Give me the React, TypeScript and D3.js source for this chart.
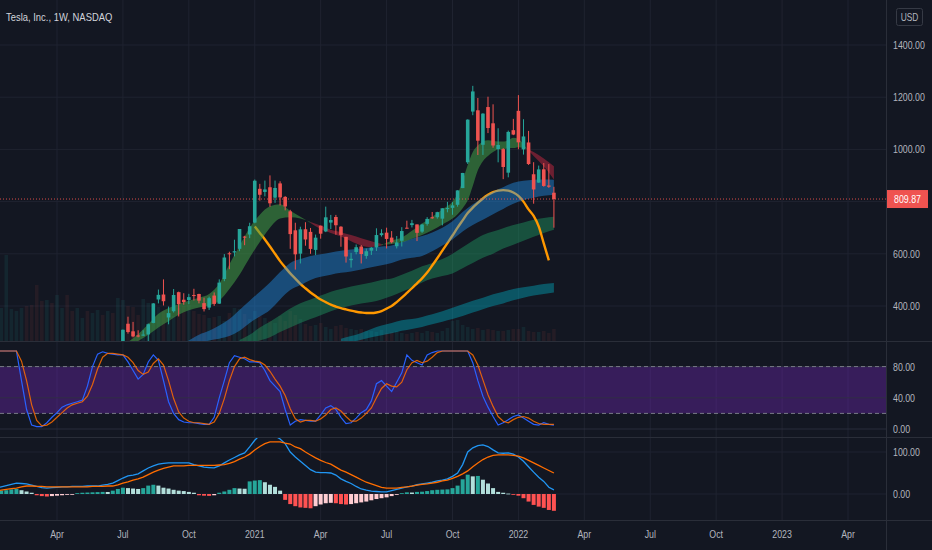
// App.tsx
// Weekly TSLA chart in a TradingView dark theme: candles with EMA ribbons and a
// regression curve, a stochastic pane and a MACD pane. Drawn as JSX with d3 scales.
import React from 'react';
import * as d3 from 'd3';

const W = 932;
const H = 550;
const AXIS_X = 886;
const FONT = "'Liberation Sans', 'DejaVu Sans', sans-serif";
const SQUEEZE = 0.8; // the screenshot's labels are narrow

// one bar per week, week 0 = 2020-01-13
const weeks = d3.timeMonday.range(new Date(2020, 0, 13), new Date(2022, 1, 22));

const opens = [
  98.7, 106, 108.4, 134, 160, 168, 167, 142, 121, 93.8, 82.4, 101, 102, 118, 146, 147, 140, 158, 165, 166,
  171, 188, 183, 199, 192, 255, 332, 303, 287, 289, 291, 335, 425, 444, 356, 380, 453, 424, 423, 442,
  446, 411, 394, 440, 409, 503.5, 602, 605, 619, 666, 674, 719.5, 849, 837, 855, 815, 869.7, 818, 762.6, 690,
  600.5, 694, 684, 615, 707.7, 685.7, 719.6, 741, 703.8, 664.9, 575.5, 607, 627.8, 591.8, 612, 624.5, 671.6, 681, 662, 629,
  650, 700, 710, 712.5, 685, 714.7, 740, 740.2, 734.6, 773, 776, 787.7, 851.8, 950.5, 1145, 1149.8, 1017.6, 1162.3, 1100, 1001.5,
  1001.1, 910.8, 1073.7, 1147.75, 1000, 1026.6, 904.8, 872.7, 923.8, 861.6, 834,
];
const highs = [
  110.6, 118.8, 130.6, 193.8, 163.6, 189, 172, 154.5, 137, 102, 113, 105, 116, 160, 160, 160, 163, 164, 166, 167,
  179, 205, 201, 202, 244, 310, 359, 339, 307, 307, 333, 411, 463, 502, 398, 465, 455, 449, 446.6, 466,
  447, 432, 436, 452, 502, 599, 608, 654, 695, 669, 719, 884.5, 868, 880.5, 900.4, 880.5, 877.8, 821, 768.5, 719,
  703.7, 721, 699, 673.6, 708, 780.8, 749, 749, 706, 665, 603.5, 635.6, 633.8, 620, 625.5, 697.6, 694, 700, 687, 668,
  702, 726.9, 729.9, 712.5, 715, 740.4, 760.2, 761, 774.8, 799, 797.9, 843.2, 910, 1115.2, 1243.5, 1197, 1138.7, 1201.9, 1172.8, 1081,
  1005, 1072, 1117, 1208, 1115.6, 1070.8, 951, 938, 947.8, 943.8, 856.7,
];
const lows = [
  98.1, 103, 104, 132, 150, 164, 130, 131, 109, 72.2, 83, 86, 101, 118, 137, 140, 136, 151, 161, 162,
  169, 184, 183, 189, 190, 253, 294, 280, 280, 285, 263, 334, 410, 402, 329.9, 375, 360, 405, 407, 421,
  410, 379, 385, 400.5, 408, 495, 541, 590, 610, 633, 660, 717, 803.6, 820, 780.1, 795, 785.3, 766.5, 619, 539.5,
  563, 631, 600, 595, 658, 683, 695, 673, 627, 566.2, 546.98, 598, 563, 581, 595.6, 611, 666, 620.5, 640, 620.5,
  628, 697, 701, 648.8, 680, 708, 734, 734.5, 708.9, 759, 749.5, 780.6, 851.8, 944.2, 1131, 978.6, 978.8, 1062.5, 1006.5, 950.5,
  886.1, 893, 1054.6, 1000.5, 980, 940.5, 792, 872, 857, 852.6, 700,
];
const closes = [
  102.1, 113, 130.1, 149.6, 160, 180, 133.6, 140.7, 109.3, 85.5, 102.9, 96, 114.6, 150.8, 145, 140.3, 163.9, 160.1, 163.4, 167,
  177.6, 187, 200.2, 191.9, 241.7, 308.9, 300.2, 283.4, 286.2, 290.5, 330.1, 410, 442.7, 418.3, 372.7, 442.2, 407.3, 415.1, 434, 439.7,
  420.6, 388, 430, 408, 489.6, 585.8, 599, 610, 695, 661.8, 705.7, 880, 826.2, 846.6, 793.5, 852.2, 816.1, 781.3, 675.5, 598,
  693.7, 654.9, 618.7, 661.8, 677, 739.8, 729.4, 709.4, 672.4, 589.7, 580.9, 625.2, 599, 609.9, 623.3, 671.9, 678.9, 657, 644.2, 643.4,
  687.2, 699.1, 717.2, 680.3, 711.9, 733.6, 736.3, 759.5, 774.4, 775.2, 785.5, 843, 909.7, 1114, 1222.1, 1033.4, 1137.1, 1081.9, 1015, 1017,
  932.6, 1067, 1056.8, 1027, 1049.6, 943.9, 846.4, 923.3, 860, 857, 809.87,
];
// weekly volume, millions of shares
const volumes = [
  340, 330, 860, 320, 300, 330, 350, 360, 560, 400, 410, 380, 460, 330, 460, 300, 330, 230, 300, 280,
  310, 260, 300, 280, 430, 410, 350, 340, 260, 420, 380, 330, 340, 300, 280, 250, 330, 350, 360, 300,
  270, 260, 230, 240, 250, 200, 280, 330, 320, 270, 220, 300, 250, 230, 200, 180, 250, 200, 300, 260,
  220, 170, 150, 160, 180, 140, 120, 150, 160, 130, 120, 110, 120, 100, 100, 90, 110, 80, 90, 100,
  80, 70, 80, 90, 80, 100, 90, 80, 100, 130, 200, 210, 160, 140, 120, 130, 110, 120, 110, 100,
  100, 110, 120, 120, 140, 100, 90, 90, 100, 80, 120,
];

// EMA ribbon knots: week index, fast and slow edge
const fastWeeks = [24, 26, 28, 30, 32, 34, 36, 38, 40, 42, 44, 46, 48, 50, 52, 54, 56, 58, 60, 62, 64, 66, 68, 70, 72, 74, 75, 76, 77, 78, 80, 82, 84, 86, 88, 90, 91, 92, 93, 94, 95, 96, 97, 98, 99, 100, 101, 102, 103, 104, 105, 106, 108, 110];
const fastEdge = [235, 262, 292, 330, 370, 392, 408, 420, 432, 446, 485, 560, 630, 700, 750, 782, 790, 765, 742, 718, 695, 680, 666, 648, 632, 626, 628, 632, 642, 650, 662, 688, 716, 742, 770, 800, 830, 880, 940, 990, 1015, 1030, 1035, 1033, 1030, 1030, 1035, 1045, 1040, 1020, 995, 975, 935, 885];
const slowEdge = [215, 240, 266, 290, 318, 342, 366, 384, 394, 402, 420, 465, 520, 585, 645, 700, 735, 740, 735, 722, 708, 692, 683, 672, 660, 648, 642, 638, 636, 638, 644, 658, 672, 690, 712, 735, 752, 775, 805, 860, 920, 955, 975, 990, 1000, 1000, 1005, 1005, 1008, 1005, 1000, 990, 965, 935];

const blueWeeks = [36, 38, 40, 42, 44, 46, 48, 50, 52, 54, 56, 58, 60, 62, 64, 66, 68, 70, 72, 74, 76, 78, 80, 82, 84, 86, 88, 90, 92, 94, 96, 98, 100, 102, 104, 106, 108, 110];
const blueUpper = [250, 268, 290, 305, 325, 350, 385, 420, 455, 490, 530, 565, 580, 592, 598, 605, 612, 616, 620, 624, 628, 632, 645, 658, 668, 682, 700, 725, 760, 790, 815, 838, 855, 872, 880, 884, 885, 884];
const blueLower = [225, 238, 255, 268, 275, 285, 305, 335, 360, 385, 425, 461, 480, 500, 512, 520, 527, 532, 540, 548, 556, 565, 578, 585, 592, 610, 632, 655, 685, 710, 730, 752, 772, 792, 806, 815, 822, 826];

const greenWeeks = [48, 50, 52, 54, 56, 58, 60, 62, 64, 66, 68, 70, 72, 74, 76, 78, 80, 82, 84, 86, 88, 90, 92, 94, 96, 98, 100, 102, 104, 106, 108, 110];
const greenUpper = [270, 290, 318, 340, 365, 390, 411, 425, 440, 455, 465, 475, 482, 490, 500, 505, 520, 535, 552, 565, 580, 600, 625, 650, 672, 685, 698, 710, 720, 730, 737, 742];
const greenLower = [240, 255, 268, 280, 300, 318, 335, 350, 365, 380, 392, 402, 410, 415, 425, 438, 455, 470, 490, 505, 515, 525, 545, 565, 585, 600, 620, 635, 650, 665, 680, 692];

const tealWeeks = [68, 70, 72, 74, 76, 78, 80, 82, 84, 86, 88, 90, 92, 94, 96, 98, 100, 102, 104, 106, 108, 110];
const tealUpper = [275, 285, 297, 312, 325, 335, 345, 350, 358, 368, 380, 393, 407, 420, 432, 445, 455, 465, 472, 478, 484, 488];
const tealLower = [255, 262, 271, 280, 288, 296, 305, 312, 320, 330, 340, 350, 362, 375, 388, 400, 410, 422, 432, 440, 446, 452];

// regression curve
const curveWeeks = [51, 52, 53, 54, 55, 56, 57, 58, 59, 60, 61, 62, 63, 64, 65, 66, 67, 68, 69, 70, 71, 72, 73, 74, 75, 76, 77, 78, 79, 80, 81, 82, 83, 84, 85, 86, 87, 88, 89, 90, 91, 92, 93, 94, 95, 96, 97, 98, 99, 100, 101, 102, 103, 104, 105, 106, 107, 108, 109];
const curveValues = [705, 680, 655, 628, 600, 572, 548, 525, 505, 485, 468, 452, 438, 425, 415, 405, 398, 392, 387, 382, 378, 375, 373, 373, 375, 380, 390, 400, 415, 432, 450, 468, 487, 506, 528, 555, 583, 612, 641, 670, 700, 728, 756, 777, 795, 812, 826, 836, 842, 844, 842, 835, 822, 800, 770, 745, 705, 640, 575];

// stochastic %K and %D
const stochK = [
  100, 100, 100, 100, 100, 62, 25, 5, 3, 3, 8, 15, 21, 28, 31, 33, 35, 37, 55, 80,
  96, 99, 97, 96, 95, 95, 86, 75, 64, 70, 86, 95, 88, 62, 35, 20, 12, 9, 8, 8,
  7, 6, 6, 15, 40, 62, 85, 94, 92, 90, 86, 86, 85, 75, 62, 55, 48, 25, 5, 10,
  12, 11, 10, 10, 18, 27, 30, 25, 15, 7, 8, 14, 21, 25, 36, 58, 62, 55, 48, 60,
  72, 95, 88, 85, 82, 95, 98, 100, 100, 100, 100, 100, 100, 100, 85, 62, 42, 28, 16, 5,
  8, 12, 16, 18, 14, 10, 6, 5, 8, 6, 5,
];
const stochD = [
  100, 100, 100, 100, 100, 87, 62, 31, 11, 4, 5, 9, 15, 21, 27, 31, 33, 35, 42, 57,
  77, 92, 97, 97, 96, 95, 92, 85, 75, 70, 73, 84, 90, 82, 62, 39, 22, 14, 10, 8,
  8, 7, 6, 9, 20, 39, 62, 80, 90, 92, 89, 87, 86, 82, 74, 64, 55, 43, 26, 13,
  9, 11, 11, 10, 13, 18, 25, 27, 23, 16, 10, 10, 14, 20, 27, 40, 52, 58, 55, 54,
  60, 76, 85, 88, 85, 87, 92, 98, 100, 100, 100, 100, 100, 100, 95, 82, 63, 44, 29, 16,
  10, 8, 12, 15, 16, 14, 10, 7, 6, 6, 6,
];
const stochBand = [20, 80];

// MACD line, signal line and histogram
const macdLine = [
  14, 17, 20, 23, 26, 25, 24, 21, 18, 15, 14, 15, 16, 17, 17, 18, 18, 18, 19, 19,
  19, 21, 23, 26, 32, 38, 43, 45, 48, 55, 62, 67, 71, 73, 74, 74, 74, 74, 74, 70,
  67, 64, 63, 62, 67, 74, 81, 87, 93, 98, 112, 128, 140, 147, 145, 138, 131, 120, 100, 88,
  78, 68, 58, 52, 51, 51, 50, 45, 36, 30, 25, 18, 12, 9, 7, 6, 5, 5, 8, 11,
  14, 17, 19, 22, 24, 26, 28, 31, 33, 36, 42, 50, 70, 100, 110, 115, 117, 113, 105, 98,
  97, 98, 95, 88, 78, 65, 52, 40, 30, 16, 10,
];
const signalLine = [
  7, 9, 11, 13, 14, 17, 19, 19, 18, 18, 17, 17, 17, 17, 17, 17, 17, 17, 17, 18,
  18, 18, 19, 19, 22, 26, 29, 33, 36, 40, 46, 52, 57, 61, 64, 67, 67, 67, 68, 68,
  68, 68, 68, 68, 69, 70, 73, 77, 83, 88, 95, 105, 113, 120, 124, 124, 124, 121, 119, 112,
  108, 100, 93, 86, 80, 75, 71, 64, 57, 52, 46, 40, 34, 28, 24, 20, 16, 14, 14, 14,
  16, 17, 19, 21, 23, 24, 26, 28, 31, 33, 37, 42, 48, 55, 65, 74, 82, 88, 92, 93,
  93, 93, 92, 90, 86, 80, 74, 68, 62, 56, 50,
];
const macdHist = [
  7, 8, 9, 11, 12, 9, 6, 3, -3, -5, -6, -5, -4, -3, -2, -1, 2, 3, 3.5, 4,
  4.5, 5, 4.8, 8, 12, 15, 14, 13, 12, 14, 20, 22, 20, 15, 13, 10, 8, 7, 5, 3,
  -3, -4, -4.5, -3, 3, 6, 10, 14, 13, 12.5, 30, 32, 33, 28, 22, 17, 8, -14, -24, -29,
  -32, -33, -34, -29, -25, -22, -21, -22, -24, -25, -24, -22, -20, -18, -15, -12, -10, -8, -5, -2,
  2, 4, 3.5, 5, 5.5, 7, 9, 10, 10.5, 11, 14, 20, 35, 46, 42, 43, 34, 25, 14, 5,
  3, 1, -2, -4, -10, -18, -26, -30, -33, -38, -40,
];

// axes
const priceTicks = [400, 600, 800, 1000, 1200, 1400];
const priceTickLabels = ['400.00', '600.00', '', '1000.00', '1200.00', '1400.00'];
const stochTicks = [0, 40, 80];
const macdTicks = [0, 100];
const timeTickDates = [
  '2020-04-06', '2020-07-06', '2020-10-05', '2021-01-04', '2021-04-05', '2021-07-05', '2021-10-04',
  '2022-01-03', '2022-04-04', '2022-07-04', '2022-10-03', '2023-01-02', '2023-04-03',
];
const timeTickLabels = ['Apr', 'Jul', 'Oct', '2021', 'Apr', 'Jul', 'Oct', '2022', 'Apr', 'Jul', 'Oct', '2023', 'Apr'];

const parseDate = d3.timeParse('%Y-%m-%d');

const PRICE_TOP = 0;
const PRICE_BOTTOM = 341;
const STOCH_BOTTOM = 437;
const MACD_BOTTOM = 520;

const UP = '#26a69a';
const DOWN = '#ef5350';
const GRID = '#1f2330';
const BORDER = '#2a2e39';
const TEXT = '#b2b5be';

// narrow text, squeezed horizontally around its anchor point
const Label: React.FC<{
  x: number;
  y: number;
  size?: number;
  fill?: string;
  anchor?: 'start' | 'middle' | 'end';
  children: React.ReactNode;
}> = ({ x, y, size = 11, fill = TEXT, anchor = 'start', children }) => (
  <text
    transform={`translate(${x},${y}) scale(${SQUEEZE},1)`}
    fill={fill}
    fontSize={size}
    textAnchor={anchor}
  >
    {children}
  </text>
);

export default function App() {
  const x = d3
    .scaleTime()
    .domain([new Date(2020, 3, 6), new Date(2023, 3, 3)])
    .range([57, 848]);
  const yPrice = d3.scaleLinear().domain([400, 1400]).range([306, 45]);
  const yVol = d3.scaleLinear().domain([0, 1000]).range([PRICE_BOTTOM, PRICE_BOTTOM - 100]);
  const yStoch = d3.scaleLinear().domain([0, 100]).range([429, 351]);
  const yMacd = d3.scaleLinear().domain([0, 100]).range([494, 452]);

  const xw = (i: number) => x(weeks[i]);
  const barW = 3.6;

  const band = (idx: number[], hi: number[], lo: number[]) =>
    d3
      .area<number>()
      .x((i) => xw(idx[i]))
      .y0((i) => yPrice(lo[i]))
      .y1((i) => yPrice(hi[i]))
      .curve(d3.curveMonotoneX)(d3.range(idx.length)) || '';

  // split the fast ribbon into green / red runs
  const fastRuns: { up: boolean; pts: number[] }[] = [];
  for (let j = 0; j < fastWeeks.length - 1; j++) {
    const up = fastEdge[j] + fastEdge[j + 1] >= slowEdge[j] + slowEdge[j + 1];
    const last = fastRuns[fastRuns.length - 1];
    if (last && last.up === up) last.pts.push(j + 1);
    else fastRuns.push({ up, pts: [j, j + 1] });
  }
  const fastArea = d3
    .area<number>()
    .x((j) => xw(fastWeeks[j]))
    .y0((j) => yPrice(slowEdge[j]))
    .y1((j) => yPrice(fastEdge[j]))
    .curve(d3.curveMonotoneX);

  const curvePath =
    d3
      .line<number>()
      .x((i) => xw(curveWeeks[i]))
      .y((i) => yPrice(curveValues[i]))
      .curve(d3.curveMonotoneX)(d3.range(curveWeeks.length)) || '';

  const weekLine = (vals: number[], y: d3.ScaleLinear<number, number>) =>
    d3
      .line<number>()
      .x((_, i) => xw(i))
      .y((v) => y(v))(vals) || '';

  const lastClose = closes[closes.length - 1];
  const timeTicks = timeTickDates.map((s) => x(parseDate(s) as Date));

  return (
    <svg
      width={W}
      height={H}
      style={{ position: 'fixed', left: 0, top: 0, display: 'block' }}
      fontFamily={FONT}
    >
      <defs>
        <clipPath id="clipPrice">
          <rect x={0} y={PRICE_TOP} width={AXIS_X} height={PRICE_BOTTOM - PRICE_TOP} />
        </clipPath>
        <clipPath id="clipStoch">
          <rect x={0} y={PRICE_BOTTOM} width={AXIS_X} height={STOCH_BOTTOM - PRICE_BOTTOM} />
        </clipPath>
        <clipPath id="clipMacd">
          <rect x={0} y={STOCH_BOTTOM} width={AXIS_X} height={MACD_BOTTOM - STOCH_BOTTOM} />
        </clipPath>
      </defs>
      <rect width={W} height={H} fill="#131722" />

      {/* grid */}
      {timeTicks.map((tx, i) => (
        <line key={`vg${i}`} x1={tx} x2={tx} y1={0} y2={MACD_BOTTOM} stroke={GRID} />
      ))}
      {priceTicks.map((p) => (
        <line key={`pg${p}`} x1={0} x2={AXIS_X} y1={yPrice(p)} y2={yPrice(p)} stroke={GRID} />
      ))}
      {macdTicks.map((v) => (
        <line key={`mg${v}`} x1={0} x2={AXIS_X} y1={yMacd(v)} y2={yMacd(v)} stroke={GRID} />
      ))}

      {/* price pane */}
      <g clipPath="url(#clipPrice)">
        {volumes.map((v, i) => {
          const up = closes[i] >= opens[i];
          return (
            <rect
              key={`v${i}`}
              x={xw(i) - barW / 2}
              y={yVol(v)}
              width={barW}
              height={PRICE_BOTTOM - yVol(v)}
              fill={up ? UP : DOWN}
              opacity={up ? 0.11 : 0.08}
            />
          );
        })}
        <path d={band(tealWeeks, tealUpper, tealLower)} fill="#00acc1" opacity={0.42} />
        <path d={band(greenWeeks, greenUpper, greenLower)} fill="#1e9a62" opacity={0.45} />
        <path d={curvePath} fill="none" stroke="#ff9800" strokeWidth={2.4} />
        <path d={band(blueWeeks, blueUpper, blueLower)} fill="#2196f3" opacity={0.42} />
        {fastRuns.map((r, k) => (
          <path
            key={`fr${k}`}
            d={fastArea(r.pts) || ''}
            fill={r.up ? '#43a047' : '#c62840'}
            opacity={r.up ? 0.55 : 0.5}
          />
        ))}
        <line
          x1={0}
          x2={AXIS_X}
          y1={yPrice(lastClose)}
          y2={yPrice(lastClose)}
          stroke={DOWN}
          strokeDasharray="1,2"
          opacity={0.9}
        />
        {closes.map((c, i) => {
          const o = opens[i];
          const col = c >= o ? UP : DOWN;
          const top = yPrice(Math.max(o, c));
          const bot = yPrice(Math.min(o, c));
          const cx = xw(i);
          return (
            <g key={`c${i}`}>
              <line x1={cx} x2={cx} y1={yPrice(highs[i])} y2={yPrice(lows[i])} stroke={col} />
              <rect x={cx - barW / 2} y={top} width={barW} height={Math.max(1, bot - top)} fill={col} />
            </g>
          );
        })}
      </g>

      {/* stochastic pane */}
      <g clipPath="url(#clipStoch)">
        <rect
          x={0}
          y={yStoch(stochBand[1])}
          width={AXIS_X}
          height={yStoch(stochBand[0]) - yStoch(stochBand[1])}
          fill="#8a2be2"
          opacity={0.3}
        />
        {stochTicks.map((v) => (
          <line key={`sg${v}`} x1={0} x2={AXIS_X} y1={yStoch(v)} y2={yStoch(v)} stroke="#2f3342" opacity={0.8} />
        ))}
        {stochBand.map((v) => (
          <line
            key={`sb${v}`}
            x1={0}
            x2={AXIS_X}
            y1={yStoch(v)}
            y2={yStoch(v)}
            stroke="#787b86"
            strokeDasharray="4,3"
          />
        ))}
        <path d={weekLine(stochK, yStoch)} fill="none" stroke="#2962ff" strokeWidth={1.2} />
        <path d={weekLine(stochD, yStoch)} fill="none" stroke="#ff6d00" strokeWidth={1.2} opacity={0.85} />
      </g>

      {/* MACD pane */}
      <g clipPath="url(#clipMacd)">
        {macdHist.map((v, i) => {
          const prev = i > 0 ? macdHist[i - 1] : 0;
          const col = v >= 0 ? (v > prev ? '#26a69a' : '#b2dfdb') : v < prev ? '#ff5252' : '#ffcdd2';
          const y0 = yMacd(0);
          const y1 = yMacd(v);
          return (
            <rect
              key={`h${i}`}
              x={xw(i) - 2}
              y={Math.min(y0, y1)}
              width={4}
              height={Math.max(0.8, Math.abs(y1 - y0))}
              fill={col}
            />
          );
        })}
        <path d={weekLine(macdLine, yMacd)} fill="none" stroke="#2196f3" strokeWidth={1.3} />
        <path d={weekLine(signalLine, yMacd)} fill="none" stroke="#ff6d00" strokeWidth={1.3} />
      </g>

      {/* pane borders */}
      {[PRICE_BOTTOM, STOCH_BOTTOM, MACD_BOTTOM].map((y) => (
        <line key={`b${y}`} x1={0} x2={W} y1={y + 0.5} y2={y + 0.5} stroke={BORDER} />
      ))}
      <line x1={AXIS_X + 0.5} x2={AXIS_X + 0.5} y1={0} y2={H} stroke={BORDER} />

      {/* title */}
      <Label x={6} y={21} size={11.8} fill="#d1d4dc">
        Tesla, Inc., 1W, NASDAQ
      </Label>

      {/* right axis */}
      <rect x={896.5} y={8.5} width={26} height={17} rx={2} fill="none" stroke="#363a45" />
      <Label x={909.5} y={21} size={10.5} anchor="middle">
        USD
      </Label>
      {priceTicks.map((p, i) =>
        priceTickLabels[i] ? (
          <Label key={`pl${p}`} x={893} y={yPrice(p) + 4}>
            {priceTickLabels[i]}
          </Label>
        ) : null,
      )}
      <rect x={AXIS_X + 1} y={yPrice(lastClose) - 9} width={41} height={18} fill={DOWN} />
      <Label x={AXIS_X + 21.5} y={yPrice(lastClose) + 4} fill="#ffffff" anchor="middle">
        {lastClose.toFixed(2)}
      </Label>
      {stochTicks.map((v) => (
        <Label key={`sl${v}`} x={893} y={yStoch(v) + 4}>
          {v.toFixed(2)}
        </Label>
      ))}
      {macdTicks.map((v) => (
        <Label key={`ml${v}`} x={893} y={yMacd(v) + 4}>
          {v.toFixed(2)}
        </Label>
      ))}

      {/* time axis */}
      {timeTicks.map((tx, i) => (
        <Label key={`tl${i}`} x={tx} y={538} anchor="middle">
          {timeTickLabels[i]}
        </Label>
      ))}
    </svg>
  );
}
